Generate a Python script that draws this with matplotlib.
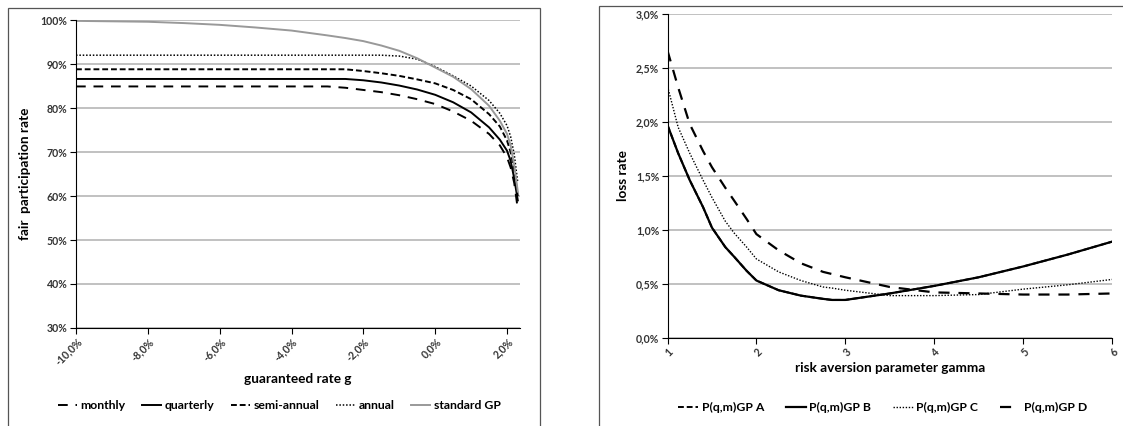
import matplotlib
matplotlib.use("Agg")
import matplotlib.pyplot as plt
from matplotlib.patches import Rectangle
from matplotlib.ticker import FuncFormatter

plt.rcParams['font.family'] = ['Lato', 'DejaVu Sans']

# left panel: fair participation rate vs guaranteed rate g (in %)
g = [-10, -9, -8, -7, -6, -5, -4, -3, -2.5, -2, -1.5, -1, -0.5, 0, 0.5, 1, 1.5, 1.8, 2.0, 2.1, 2.2, 2.3]
monthly = [84.9, 84.9, 84.9, 84.9, 84.9, 84.9, 84.9, 84.9, 84.6, 84.1, 83.6, 82.9, 82.0, 80.9, 79.2, 77.1, 74.1, 71.5, 68.8, 66.5, 63.0, 57.0]
quarterly = [86.6, 86.6, 86.6, 86.6, 86.6, 86.6, 86.6, 86.6, 86.6, 86.3, 85.8, 85.1, 84.2, 83.0, 81.3, 79.0, 75.6, 72.8, 70.3, 68.0, 64.0, 59.0]
semi_annual = [88.8, 88.8, 88.8, 88.8, 88.8, 88.8, 88.8, 88.8, 88.8, 88.4, 87.9, 87.3, 86.5, 85.6, 84.1, 82.0, 78.6, 75.8, 72.6, 70.0, 66.0, 60.0]
annual = [92.0, 92.0, 92.0, 92.0, 92.0, 92.0, 92.0, 92.0, 92.0, 92.0, 92.0, 91.8, 91.1, 89.4, 87.3, 85.0, 81.7, 78.8, 76.0, 73.5, 69.5, 63.0]
standard_gp = [99.8, 99.7, 99.6, 99.3, 98.9, 98.3, 97.6, 96.5, 95.9, 95.2, 94.2, 93.0, 91.3, 89.2, 87.1, 84.3, 80.5, 77.1, 74.1, 71.5, 67.0, 61.0]

# right panel: loss rate vs risk aversion gamma (in %)
gamma = [1, 1.12, 1.25, 1.4, 1.5, 1.65, 1.75, 1.89, 2, 2.25, 2.5, 2.75, 2.85, 3, 3.5, 4, 4.5, 5, 5.5, 6]
gp_b = [1.97, 1.71, 1.46, 1.21, 1.02, 0.84, 0.75, 0.62, 0.53, 0.44, 0.39, 0.36, 0.35, 0.35, 0.41, 0.48, 0.56, 0.66, 0.77, 0.89]
gp_a = gp_b
gp_c = [2.33, 1.95, 1.71, 1.46, 1.30, 1.08, 0.97, 0.84, 0.73, 0.61, 0.53, 0.47, 0.46, 0.44, 0.39, 0.39, 0.40, 0.45, 0.49, 0.54]
gp_d = [2.66, 2.32, 1.98, 1.73, 1.58, 1.39, 1.27, 1.10, 0.96, 0.81, 0.69, 0.61, 0.59, 0.56, 0.47, 0.42, 0.41, 0.40, 0.40, 0.41]

W, H = 1123, 426
fig = plt.figure(figsize=(W / 100, H / 100), dpi=100)

# panel frames
fig.add_artist(Rectangle((7.5 / W, -0.1), 532.5 / W, 1.1 - 7.5 / H, transform=fig.transFigure,
                         fill=False, ec='#555555', lw=0.9, clip_on=False))
fig.add_artist(Rectangle((598.5 / W, -0.1), 0.6, 1.1 - 6 / H, transform=fig.transFigure,
                         fill=False, ec='#555555', lw=0.9, clip_on=False))

ax1 = fig.add_axes([76 / W, 1 - 328 / H, 443.6 / W, 308 / H])
ax2 = fig.add_axes([667.5 / W, 1 - 337.7 / H, 444.5 / W, 323.7 / H])

ax1.plot(g, monthly, color='black', lw=1.4, dashes=(5, 4), label='monthly')
ax1.plot(g, quarterly, color='black', lw=1.4, label='quarterly')
ax1.plot(g, semi_annual, color='black', lw=1.4, dashes=(3, 1.5), label='semi-annual')
ax1.plot(g, annual, color='black', lw=1.1, dashes=(1, 1.2), label='annual')
ax1.plot(g, standard_gp, color='#999999', lw=1.4, label='standard GP')

ax1.set_xlim(-10, 2.35)
ax1.set_ylim(30, 100)
ax1.set_xticks([-10, -8, -6, -4, -2, 0, 2])
ax1.set_yticks(range(30, 101, 10))
ax1.xaxis.set_major_formatter(FuncFormatter(lambda v, p: ('%.1f%%' % v).replace('.', ',')))
ax1.yaxis.set_major_formatter(FuncFormatter(lambda v, p: '%d%%' % v))
ax1.set_xlabel('guaranteed rate g', fontsize=9.8, fontweight='bold', labelpad=4)
ax1.set_ylabel('fair  participation rate', fontsize=9.8, fontweight='bold', labelpad=7)
ax1.legend(loc='center', bbox_to_anchor=(0.458, -0.253), ncol=5, frameon=False,
           handlelength=1.6, handletextpad=0.3, columnspacing=1.3,
           prop={'weight': 'bold', 'size': 8.8})

ax2.plot(gamma, gp_a, color='black', lw=1.4, dashes=(3, 1.5), label='P(q,m)GP A')
ax2.plot(gamma, gp_b, color='black', lw=1.6, label='P(q,m)GP B')
ax2.plot(gamma, gp_c, color='black', lw=1.0, dashes=(1, 1.2), label='P(q,m)GP C')
ax2.plot(gamma, gp_d, color='black', lw=1.6, dashes=(5, 4), label='P(q,m)GP D')

ax2.set_xlim(1, 6)
ax2.set_ylim(0, 3.0)
ax2.set_xticks([1, 2, 3, 4, 5, 6])
ax2.set_yticks([0, 0.5, 1.0, 1.5, 2.0, 2.5, 3.0])
ax2.yaxis.set_major_formatter(FuncFormatter(lambda v, p: ('%.1f%%' % v).replace('.', ',')))
ax2.set_xlabel('risk aversion parameter gamma', fontsize=9.8, fontweight='bold', labelpad=3)
ax2.set_ylabel('loss rate', fontsize=9.8, fontweight='bold', labelpad=5)
ax2.legend(loc='center', bbox_to_anchor=(0.484, -0.215), ncol=4, frameon=False,
           handlelength=1.6, handletextpad=0.3, columnspacing=1.8,
           prop={'weight': 'bold', 'size': 8.8})

for ax in (ax1, ax2):
    for s in ('top', 'right'):
        ax.spines[s].set_visible(False)
    ax.spines['left'].set_color('black')
    ax.spines['bottom'].set_color('black')
    ax.yaxis.grid(True, color='#b0b0b0', lw=1.1)
    ax.set_axisbelow(True)
    ax.tick_params(axis='both', direction='out', length=4, width=0.8, labelsize=7.6, pad=2)
    for lbl in ax.get_yticklabels() + ax.get_xticklabels():
        lbl.set_fontweight('bold')
        lbl.set_color('#333333')
    for lbl in ax.get_xticklabels():
        lbl.set_rotation(45)
        lbl.set_ha('right')
        lbl.set_rotation_mode('anchor')

fig.savefig('out.png', dpi=100)
